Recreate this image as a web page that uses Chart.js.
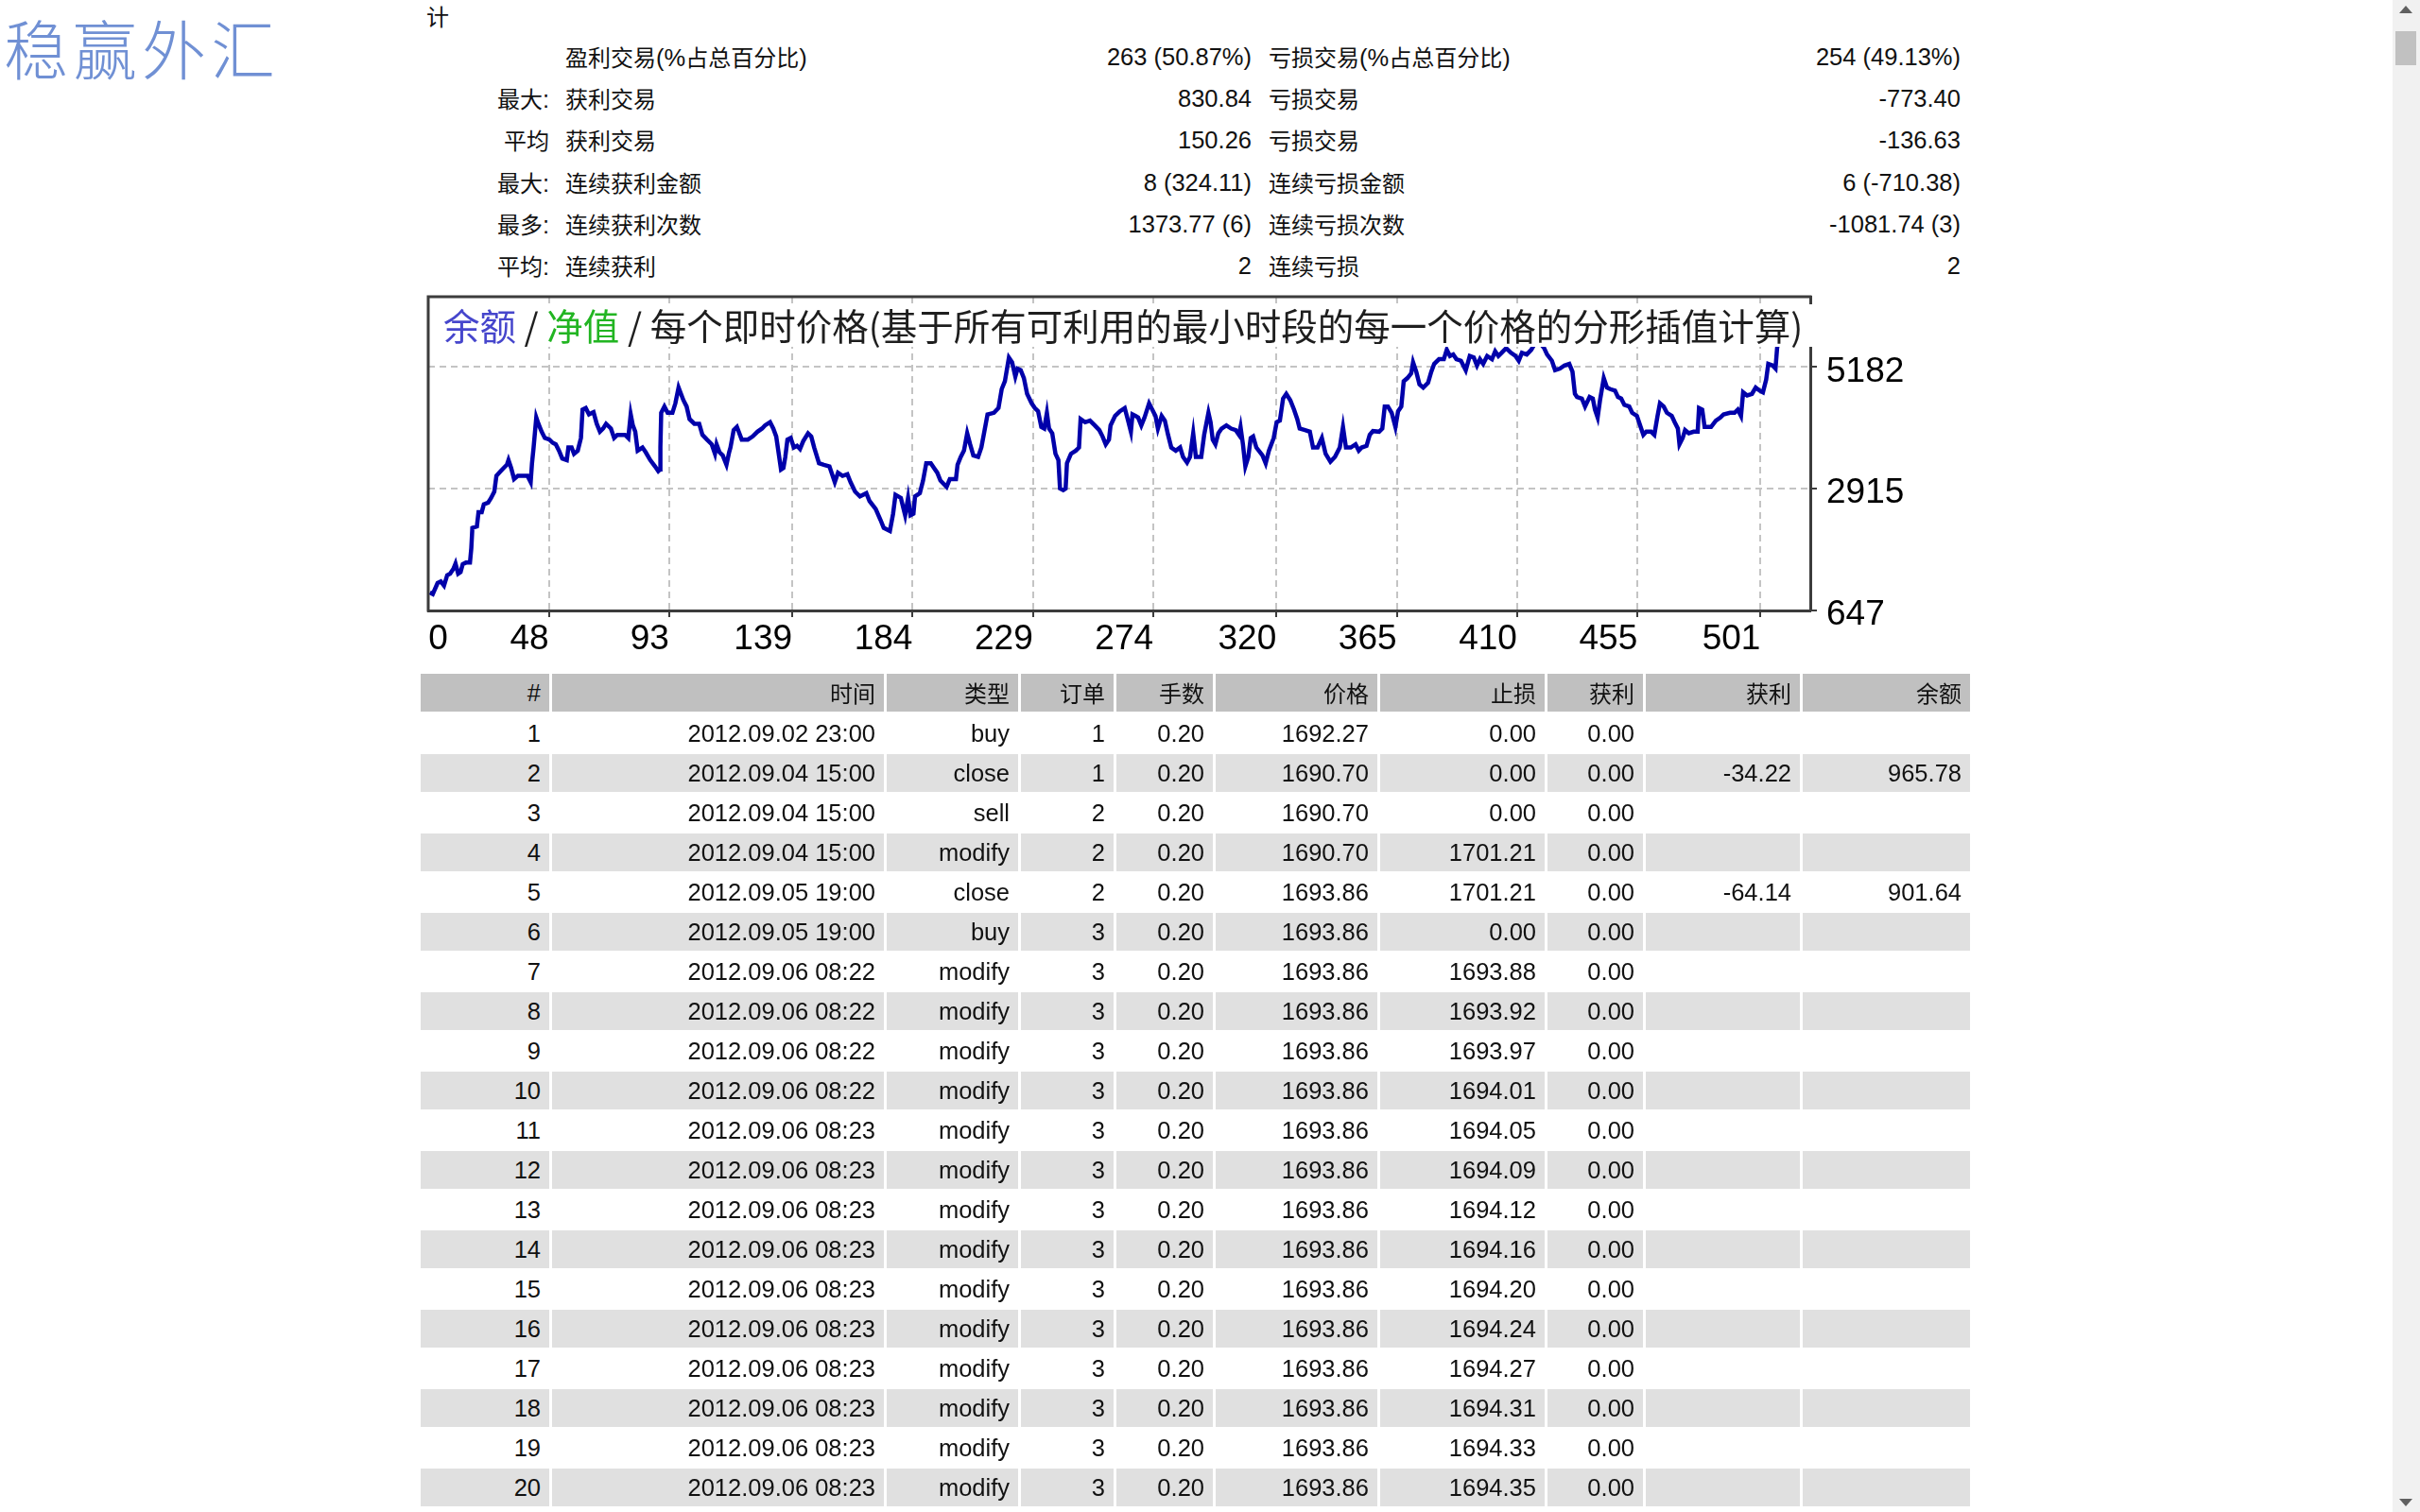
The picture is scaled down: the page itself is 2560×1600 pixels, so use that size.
<!DOCTYPE html>
<html><head><meta charset="utf-8">
<script src="https://cdn.jsdelivr.net/npm/chart.js@4/dist/chart.umd.min.js"></script>
<style>
html,body{margin:0;padding:0;background:#fff;overflow:hidden;width:2560px;height:1600px;}
body{position:relative;font-family:"Liberation Sans","Noto Sans CJK SC",sans-serif;color:#111;font-size:25.5px;}
.c{font-family:"Noto Sans CJK SC",sans-serif;font-size:24px;}
.abs{position:absolute;white-space:nowrap;}
.cell{position:absolute;height:40px;line-height:40px;text-align:right;box-sizing:border-box;padding-right:9px;white-space:nowrap;}
#logo{position:absolute;left:4px;top:0;font-family:"Noto Sans CJK SC",sans-serif;font-weight:300;font-size:68px;line-height:normal;color:#7090d4;letter-spacing:5px;white-space:nowrap;}
#sb{position:absolute;left:2531px;top:0;width:29px;height:1600px;background:#f1f1f1;}
#thumb{position:absolute;left:2534px;top:33px;width:22px;height:36px;background:#c1c1c1;}
.arr{position:absolute;width:0;height:0;border-left:7px solid transparent;border-right:7px solid transparent;}
</style></head>
<body>
<div id="logo">稳赢外汇</div>
<div class="abs" style="left:451px;top:-3px;line-height:40px;"><span class="c">计</span></div>
<div id="stats"></div>
<canvas id="chart" width="1620" height="420" style="position:absolute;left:440px;top:300px;width:1620px;height:420px;"></canvas>
<div id="table"></div>
<div id="sb"></div>
<div id="thumb"></div>
<div class="arr" style="left:2538px;top:6px;border-bottom:8px solid #606060;"></div>
<div class="arr" style="left:2538px;top:1586px;border-top:8px solid #606060;"></div>
<script>
// ---------- chart data ----------
const tradeNumbers = [
3.5,4.6,6.4,7.6,8.8,10.0,11.1,12.3,13.1,14.1,15.0,15.8,17.0,18.5,19.0,19.4,21.1,21.7,22.9,23.7,25.3,26.4,27.6,28.4,30.0,31.1,32.3,32.9,33.9,35.0,36.4,40.0,41.2,41.7,42.3,43.3,44.1,45.3,46.5,48.2,49.4,50.6,51.8,53.0,54.7,55.3,56.5,57.4,58.8,60.0,60.6,61.8,63.0,64.2,64.7,65.9,67.1,68.3,69.4,71.2,72.4,73.6,76.5,77.7,78.6,79.4,80.3,81.2,83.0,84.2,85.9,87.7,88.9,89.5,89.7,90.0,91.2,92.4,94.2,95.3,96.5,98.3,99.5,100.6,102.4,104.2,105.4,107.1,108.9,110.1,110.7,111.8,113.0,114.4,115.4,115.9,117.1,118.3,120.1,122.4,124.2,126.0,127.7,128.8,130.7,131.9,133.0,134.8,
135.7,136.4,137.2,138.4,139.6,140.8,141.9,143.1,144.9,146.1,147.2,149.0,150.8,152.9,154.9,156.1,157.8,159.6,160.8,162.5,164.3,166.7,167.9,170.2,172.0,173.2,175.5,176.7,177.6,179.6,181.2,182.3,183.2,184.3,184.9,186.7,187.9,189.1,190.8,192.0,193.2,194.4,196.7,197.9,200.2,200.8,202.0,203.2,204.4,205.5,206.7,208.5,209.7,210.8,212.0,214.4,216.1,217.3,218.5,220.0,221.2,222.4,223.2,224.4,225.6,226.8,228.5,229.7,230.9,232.1,233.2,234.2,235.0,236.2,237.4,238.5,239.1,240.3,241.2,241.7,243.2,245.0,246.2,246.8,248.5,250.3,252.1,253.8,255.0,256.2,257.4,258.0,259.7,261.5,263.3,264.4,265.6,266.2,267.4,
268.3,269.5,270.7,272.4,273.6,274.8,275.7,277.1,278.3,279.5,280.7,282.4,284.0,285.1,286.6,287.7,288.9,289.9,291.9,293.0,294.6,295.4,296.2,297.2,298.3,299.5,301.3,303.1,304.8,306.0,306.6,307.5,308.4,309.5,310.4,311.3,312.5,314.8,316.0,317.2,319.0,320.1,321.3,322.5,323.7,325.2,326.6,327.8,328.7,330.7,332.5,333.7,335.4,337.0,338.4,340.2,341.9,343.7,344.9,346.0,347.8,349.6,350.8,351.9,353.7,354.9,356.1,358.4,359.6,360.5,361.7,363.1,364.5,365.5,366.7,367.6,369.0,370.4,371.1,372.3,373.5,374.9,376.7,377.9,379.0,380.8,382.6,383.7,384.9,386.1,387.3,389.0,390.8,392.3,393.8,395.0,396.1,397.3,
398.8,400.6,401.8,403.0,404.2,405.9,407.7,409.4,410.6,411.8,413.6,415.3,417.5,420.1,421.2,423.0,424.2,426.0,427.7,429.5,430.7,431.6,432.4,434.2,435.4,437.1,438.3,439.1,440.1,441.0,441.8,442.4,443.6,444.8,446.6,447.7,448.9,450.1,451.9,453.0,454.8,456.0,457.2,458.3,460.1,461.3,462.5,463.4,464.8,466.0,467.8,468.9,470.1,470.7,471.9,472.8,474.2,476.0,477.5,478.0,479.2,480.1,482.5,484.3,486.0,487.2,489.6,491.3,492.5,493.7,494.5,496.0,497.8,499.2,500.7,501.9,503.1,503.9,505.5,506.6,507.2,508.0
];
const balanceValues = [
974,945,1151,1180,1104,1298,1327,1416,1516,1327,1357,1504,1533,1533,1798,2181,2210,2475,2475,2622,2652,2740,2857,3152,3240,3299,3358,3446,3299,3093,3152,3152,3034,3387,3681,4240,4123,3976,3858,3829,3770,3740,3622,3475,3446,3681,3681,3564,3622,3858,4387,4417,4299,4329,4340,4123,3976,4035,4123,4035,3858,3917,3917,3858,4299,4093,3976,3622,3681,3593,3446,3328,3240,3270,3681,4328,4446,4328,4328,4505,4799,4564,4446,4211,4123,4123,3917,3829,3740,3564,3740,3593,3534,3358,3593,3681,4005,4064,3829,3829,3887,3976,4035,4093,4152,4035,3887,3270,
3299,3505,3829,3858,3681,3711,3652,3799,3946,3887,3681,3387,3358,3328,3034,3211,3152,3181,3034,2857,2769,2828,2681,2534,2328,2181,2122,2445,2799,2740,2416,2740,2416,2445,2769,2828,3063,3387,3387,3299,3211,3063,2946,3093,3093,3358,3505,3622,3946,3740,3534,3505,3681,3976,4299,4328,4417,4770,4917,5359,5270,5005,5152,5123,4976,4682,4505,4417,4358,4064,4035,4328,4035,3946,3564,3446,2916,2887,2916,3387,3564,3622,3681,4211,4152,4182,4093,4005,3887,3740,3829,4093,4270,4358,4417,4211,3976,4299,4270,
4240,4093,4240,4505,4387,4270,4034,4270,4182,3917,3681,3622,3681,3505,3399,3505,3946,3505,3505,3917,4329,4152,3828,3740,3946,4034,4093,4034,4005,3917,4064,3740,3329,3505,3858,3887,3681,3534,3387,3622,3858,4152,4182,4594,4682,4564,4387,4211,4034,4005,3976,3681,3681,3858,3564,3416,3505,3681,4064,3681,3681,3740,3622,3681,3711,3917,3987,3976,4034,4446,4446,4329,4064,4358,4446,4917,4976,5064,5270,5094,4858,4799,4888,5094,5241,5329,5329,5506,5388,5418,5329,5300,5123,5388,5359,5211,5329,5241,
5388,5329,5476,5388,5447,5535,5447,5388,5300,5447,5417,5506,5700,5535,5417,5300,5123,5153,5211,5241,5094,4682,4623,4594,4446,4623,4594,4388,4240,4564,4799,4976,4799,4770,4741,4623,4594,4476,4446,4329,4270,4093,3917,3976,3976,3917,4270,4505,4446,4329,4270,4152,4035,3740,3858,4005,3946,3976,3976,4417,4388,4064,4064,4182,4240,4299,4329,4329,4388,4270,4711,4652,4682,4799,4741,4711,4946,5241,5211,5153,5535,5750
];
const xTickLabels = ['0','48','93','139','184','229','274','320','365','410','455','501'];
const yTickLabels = ['647','2915','5182'];
const X_MIN = 2.9, X_MAX = 519.6, Y_MIN = 640, Y_MAX = 6494;
const ZERO_LABEL_SHIFT = 7.4;
const titleParts = [
  ['余额', '#4646cc'],
  [' / ', '#1e1e1e'],
  ['净值', '#22b522'],
  [' / 每个即时价格(基于所有可利用的最小时段的每一个价格的分形插值计算)', '#1e1e1e']
];

// ---------- stats & table text ----------
const statRows = [
  ['', '盈利交易(%占总百分比)', '263 (50.87%)', '亏损交易(%占总百分比)', '254 (49.13%)'],
  ['最大:', '获利交易', '830.84', '亏损交易', '-773.40'],
  ['平均', '获利交易', '150.26', '亏损交易', '-136.63'],
  ['最大:', '连续获利金额', '8 (324.11)', '连续亏损金额', '6 (-710.38)'],
  ['最多:', '连续获利次数', '1373.77 (6)', '连续亏损次数', '-1081.74 (3)'],
  ['平均:', '连续获利', '2', '连续亏损', '2']
];
const tableHeader = ['#','时间','类型','订单','手数','价格','止损','获利','获利','余额'];
const tableRows = [
  ['1','2012.09.02 23:00','buy','1','0.20','1692.27','0.00','0.00','',''],
  ['2','2012.09.04 15:00','close','1','0.20','1690.70','0.00','0.00','-34.22','965.78'],
  ['3','2012.09.04 15:00','sell','2','0.20','1690.70','0.00','0.00','',''],
  ['4','2012.09.04 15:00','modify','2','0.20','1690.70','1701.21','0.00','',''],
  ['5','2012.09.05 19:00','close','2','0.20','1693.86','1701.21','0.00','-64.14','901.64'],
  ['6','2012.09.05 19:00','buy','3','0.20','1693.86','0.00','0.00','',''],
  ['7','2012.09.06 08:22','modify','3','0.20','1693.86','1693.88','0.00','',''],
  ['8','2012.09.06 08:22','modify','3','0.20','1693.86','1693.92','0.00','',''],
  ['9','2012.09.06 08:22','modify','3','0.20','1693.86','1693.97','0.00','',''],
  ['10','2012.09.06 08:22','modify','3','0.20','1693.86','1694.01','0.00','',''],
  ['11','2012.09.06 08:23','modify','3','0.20','1693.86','1694.05','0.00','',''],
  ['12','2012.09.06 08:23','modify','3','0.20','1693.86','1694.09','0.00','',''],
  ['13','2012.09.06 08:23','modify','3','0.20','1693.86','1694.12','0.00','',''],
  ['14','2012.09.06 08:23','modify','3','0.20','1693.86','1694.16','0.00','',''],
  ['15','2012.09.06 08:23','modify','3','0.20','1693.86','1694.20','0.00','',''],
  ['16','2012.09.06 08:23','modify','3','0.20','1693.86','1694.24','0.00','',''],
  ['17','2012.09.06 08:23','modify','3','0.20','1693.86','1694.27','0.00','',''],
  ['18','2012.09.06 08:23','modify','3','0.20','1693.86','1694.31','0.00','',''],
  ['19','2012.09.06 08:23','modify','3','0.20','1693.86','1694.33','0.00','',''],
  ['20','2012.09.06 08:23','modify','3','0.20','1693.86','1694.35','0.00','','']
];

function cjk(s){ return s.replace(/([\u3000-\u303f\u4e00-\u9fff\uff00-\uffef]+)/g,'<span class="c">$1</span>'); }

// stats block
(function(){
  const cols = [
    {left:381, width:200, align:'right'},
    {left:598, width:380, align:'left'},
    {left:1000, width:324, align:'right'},
    {left:1342, width:380, align:'left'},
    {left:1774, width:300, align:'right'}
  ];
  let html = '';
  statRows.forEach((row, r) => {
    const cy = 60 + r * 44.2;
    row.forEach((txt, c) => {
      if (!txt) return;
      const col = cols[c];
      html += `<div class="abs" style="left:${col.left}px;width:${col.width}px;top:${cy-20}px;height:40px;line-height:40px;text-align:${col.align};">${cjk(txt)}</div>`;
    });
  });
  document.getElementById('stats').innerHTML = html;
})();

// trade table
(function(){
  const lefts = [445,584,938,1080,1181,1286,1460,1637,1741,1907];
  const widths = [136,351,139,98,102,171,174,101,163,177];
  let html = '';
  const addRow = (cells, top, bg) => {
    cells.forEach((txt, c) => {
      html += `<div class="cell" style="left:${lefts[c]}px;width:${widths[c]}px;top:${top}px;background:${bg};">${cjk(txt)}</div>`;
    });
  };
  addRow(tableHeader, 713, '#c0c0c0');
  tableRows.forEach((row, i) => addRow(row, 714 + 42 * (i + 1), (i % 2 === 1) ? '#e0e0e0' : '#ffffff'));
  document.getElementById('table').innerHTML = html;
})();

// ---------- chart ----------
const frameAndTitle = {
  id: 'frameAndTitle',
  afterDatasetsDraw(chart) {
    const {ctx, chartArea: a} = chart;
    ctx.save();
    ctx.strokeStyle = '#3c3c3c';
    ctx.lineWidth = 3;
    ctx.beginPath();
    ctx.moveTo(a.left, a.bottom + 1.5);
    ctx.lineTo(a.left, a.top);
    ctx.lineTo(a.right + 1.5, a.top);
    ctx.stroke();
    // title band
    ctx.fillStyle = '#ffffff';
    ctx.fillRect(a.left + 5, a.top + 8, a.right - a.left + 12, 45);
    ctx.font = '38.5px "Noto Sans CJK SC", sans-serif';
    ctx.textBaseline = 'middle';
    let x = a.left + 16;
    const y = a.top + 31;
    titleParts.forEach(([t, col]) => {
      ctx.fillStyle = col;
      ctx.fillText(t, x, y);
      x += ctx.measureText(t).width;
    });
    ctx.restore();
  }
};

const noPad = s => { s.paddingTop = 0; s.paddingBottom = 0; s.paddingLeft = 0; s.paddingRight = 0; };
const tickFont = {family: '"Liberation Sans", Arial, sans-serif', size: 37};
new Chart(document.getElementById('chart'), {
  type: 'line',
  data: {
    datasets: [{
      data: tradeNumbers.map((x, i) => ({x, y: balanceValues[i]})),
      borderColor: '#0000aa',
      borderWidth: 4.5,
      borderJoinStyle: 'miter',
      pointRadius: 0,
      tension: 0,
      fill: false
    }]
  },
  options: {
    responsive: false,
    devicePixelRatio: 1,
    animation: false,
    events: [],
    layout: {padding: {left: 13, top: 14, right: 0, bottom: 0}},
    plugins: {legend: {display: false}, tooltip: {enabled: false}, title: {display: false}},
    scales: {
      x: {
        type: 'linear', position: 'bottom', min: X_MIN, max: X_MAX,
        afterBuildTicks: s => { s.ticks = xTickLabels.map((l, i) => ({value: i === 0 ? X_MIN + ZERO_LABEL_SHIFT : Number(l)})); },
        afterFit: s => { s.height = 74; noPad(s); },
        ticks: {autoSkip: false, maxRotation: 0, minRotation: 0, align: 'end', padding: 2, color: '#000', font: tickFont,
                callback: (v, i) => xTickLabels[i]},
        grid: {color: c => c.index === 0 ? 'rgba(0,0,0,0)' : '#c4c4c4', lineWidth: 2, tickLength: 7,
               tickColor: c => c.index === 0 ? 'rgba(0,0,0,0)' : '#3c3c3c', tickWidth: 2},
        border: {display: true, color: '#3c3c3c', width: 3, dash: [7, 5]}
      },
      y: {
        type: 'linear', position: 'right', min: Y_MIN, max: Y_MAX,
        afterBuildTicks: s => { s.ticks = yTickLabels.map(l => ({value: Number(l)})); },
        afterFit: s => { s.width = 145; noPad(s); },
        ticks: {padding: 10, labelOffset: 5, color: '#000', font: tickFont, callback: (v, i) => yTickLabels[i]},
        grid: {color: c => c.index === 0 ? 'rgba(0,0,0,0)' : '#c4c4c4', lineWidth: 2, tickLength: 7,
               tickColor: '#3c3c3c', tickWidth: 2},
        border: {display: true, color: '#3c3c3c', width: 3, dash: [7, 5]}
      }
    }
  },
  plugins: [frameAndTitle]
});
</script>
</body></html>
